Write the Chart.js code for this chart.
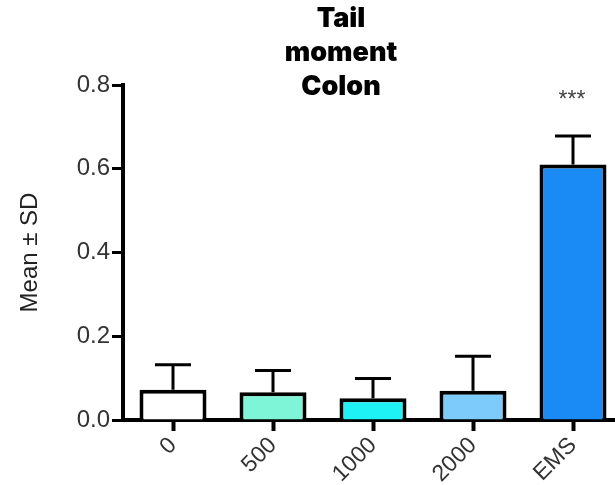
<!DOCTYPE html>
<html>
<head>
<meta charset="utf-8">
<script src="https://cdn.jsdelivr.net/npm/chart.js@4.4.0/dist/chart.umd.min.js"></script>
<style>
  html, body { margin: 0; padding: 0; background: #fff; overflow: hidden; }
  #wrap { width: 623px; height: 485px; }
</style>
</head>
<body>
<div id="wrap"><canvas id="chart" width="623" height="485"></canvas></div>
<script>
const categories = ['0', '500', '1000', '2000', 'EMS'];
const means = [0.072, 0.066, 0.052, 0.070, 0.610];
const sds = [0.060, 0.052, 0.047, 0.082, 0.068];
const stars = ['', '', '', '', '***'];
const titleLines = ['Tail', 'moment', 'Colon'];
const barColors = ['#ffffff', '#7ff5d8', '#1ef2f4', '#7ccbfa', '#1a8bf4'];

// upper whisker + significance marks
const errorBars = {
    id: 'errorBars',
    afterDatasetsDraw(chart) {
        const ctx = chart.ctx;
        const x = chart.scales.x;
        const y = chart.scales.y;
        ctx.save();
        ctx.strokeStyle = '#000';
        ctx.lineWidth = 3;
        means.forEach((m, i) => {
            const cx = x.getPixelForValue(i);
            const top = y.getPixelForValue(m);
            const hi = y.getPixelForValue(m + sds[i]);
            ctx.beginPath();
            ctx.moveTo(cx, top);
            ctx.lineTo(cx, hi);
            ctx.moveTo(cx - 18, hi);
            ctx.lineTo(cx + 18, hi);
            ctx.stroke();
            if (stars[i]) {
                ctx.fillStyle = '#444';
                ctx.font = '23px "Liberation Sans", Arial, sans-serif';
                ctx.textAlign = 'center';
                ctx.textBaseline = 'middle';
                ctx.fillText(stars[i], cx - 1, 101);
            }
        });
        ctx.restore();
    }
};

// title sits over the plot, a bit left of centre
const titleBlock = {
    id: 'titleBlock',
    afterDraw(chart) {
        const ctx = chart.ctx;
        ctx.save();
        ctx.fillStyle = '#000';
        ctx.font = '900 27px Inter, "DejaVu Sans", sans-serif';
        ctx.textAlign = 'center';
        ctx.textBaseline = 'middle';
        titleLines.forEach((t, i) => ctx.fillText(t, 341, 19 + i * 34));
        ctx.restore();
    }
};

const ctx = document.getElementById('chart').getContext('2d');
new Chart(ctx, {
    type: 'bar',
    data: {
        labels: categories,
        datasets: [{
            data: means,
            backgroundColor: barColors,
            borderColor: '#000',
            borderWidth: 4,
            barPercentage: 0.67,
            categoryPercentage: 1.0
        }]
    },
    options: {
        responsive: false,
        animation: false,
        layout: { padding: { top: 85, right: 0, left: 0, bottom: 0 } },
        plugins: {
            legend: { display: false },
            tooltip: { enabled: false }
        },
        scales: {
            x: {
                grid: { display: true, offset: false, drawOnChartArea: false, drawTicks: true, tickLength: 11, tickWidth: 4, tickColor: '#000' },
                border: { display: true, color: '#000', width: 4 },
                ticks: {
                    color: '#333',
                    font: { size: 23, family: '"Liberation Sans", Arial, sans-serif' },
                    minRotation: 45,
                    maxRotation: 45,
                    padding: 1
                },
                afterFit(scale) { scale.height = 65; }
            },
            y: {
                min: 0,
                max: 0.8,
                grid: { display: true, drawOnChartArea: false, drawTicks: true, tickLength: 11, tickWidth: 3, tickColor: '#000' },
                border: { display: true, color: '#000', width: 4 },
                ticks: {
                    stepSize: 0.2,
                    color: '#333',
                    font: { size: 24, family: '"Liberation Sans", Arial, sans-serif' },
                    padding: 2,
                    callback: v => v.toFixed(1)
                },
                title: {
                    display: true,
                    text: 'Mean ± SD',
                    color: '#222',
                    font: { size: 24, family: '"Liberation Sans", Arial, sans-serif' },
                    padding: { top: 16, bottom: 0 }
                },
                afterFit(scale) { scale.width = 123; }
            }
        }
    },
    plugins: [errorBars, titleBlock]
});
</script>
</body>
</html>
